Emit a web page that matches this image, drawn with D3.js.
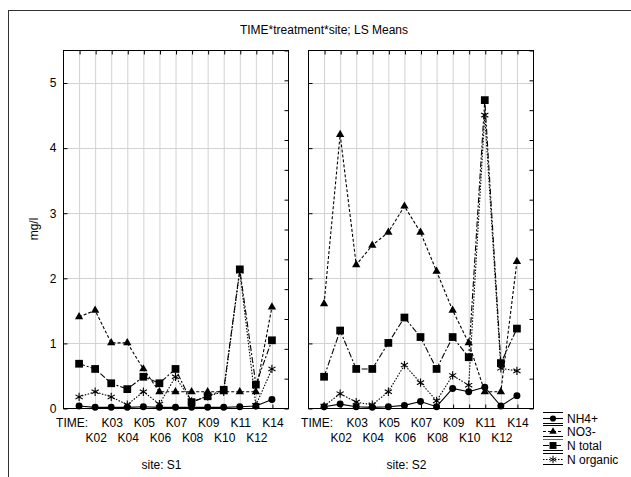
<!DOCTYPE html>
<html>
<head>
<meta charset="utf-8">
<script src="https://cdn.jsdelivr.net/npm/d3@7"></script>
<style>
  body { margin: 0; background: #fff; }
  svg { display: block; }
  text { font-family: "Liberation Sans", Arial, sans-serif; fill: #000; }
</style>
</head>
<body>
<div id="viz-container"></div>
<script>
// categories on the x axis (TIME)
const categories = ["K01", "K02", "K03", "K04", "K05", "K06", "K07", "K08", "K09", "K10", "K11", "K12", "K14"];
const sites = ["S1", "S2"];
const seriesNames = ["NH4+", "NO3-", "N total", "N organic"];
const yTicks = [0, 1, 2, 3, 4, 5];

// site S1
const nh4S1      = [0.03, 0.01, 0.01, 0.01, 0.02, 0.01, 0.01, 0.01, 0.01, 0.01, 0.02, 0.03, 0.13];
const no3S1      = [1.40, 1.50, 1.00, 1.00, 0.60, 0.25, 0.25, 0.25, 0.25, 0.25, 0.25, 0.25, 1.55];
const nTotalS1   = [0.68, 0.60, 0.38, 0.29, 0.48, 0.38, 0.60, 0.09, 0.18, 0.28, 2.13, 0.36, 1.04];
const nOrganicS1 = [0.17, 0.25, 0.17, 0.05, 0.25, 0.06, 0.48, 0.10, 0.18, 0.25, 2.10, 0.04, 0.60];

// site S2
const nh4S2      = [0.02, 0.06, 0.02, 0.01, 0.02, 0.04, 0.10, 0.02, 0.30, 0.25, 0.32, 0.03, 0.19];
const no3S2      = [1.60, 4.20, 2.20, 2.50, 2.70, 3.10, 2.70, 2.10, 1.50, 1.00, 0.25, 0.25, 2.25];
const nTotalS2   = [0.48, 1.19, 0.60, 0.60, 1.00, 1.39, 1.09, 0.60, 1.09, 0.78, 4.73, 0.69, 1.22];
const nOrganicS2 = [0.03, 0.22, 0.09, 0.05, 0.25, 0.66, 0.39, 0.11, 0.50, 0.35, 4.50, 0.61, 0.57];

const siteData = [
  [nh4S1, no3S1, nTotalS1, nOrganicS1],
  [nh4S2, no3S2, nTotalS2, nOrganicS2]
];

const width = 631;
const height = 477;
const panelTop = 50;
const panelBottom = 408;
const panelWidth = 225;
const panelLefts = [63, 308];

const dashes = [null, "3,2", "6,2,2,2", "1.5,1.5"];
const symbols = [d3.symbolCircle, d3.symbolTriangle, d3.symbolSquare, d3.symbolAsterisk];
const symbolSizes = [38, 30, 60, 48];

const svg = d3.select("#viz-container")
  .append("svg")
  .attr("width", width)
  .attr("height", height);

// outer border
svg.append("rect")
  .attr("x", 8.5).attr("y", 10.5)
  .attr("width", 700).attr("height", 600)
  .attr("fill", "none")
  .attr("stroke", "#333");

svg.append("text")
  .attr("x", 324).attr("y", 34)
  .attr("text-anchor", "middle")
  .attr("font-size", 12)
  .text("TIME*treatment*site; LS Means");

const y = d3.scaleLinear().domain([0, 5.5]).range([panelBottom, panelTop]);
const yRight = d3.scaleLinear().domain([0, 6]).range([panelBottom, panelTop]);

svg.append("text")
  .attr("transform", `translate(38,${(panelTop + panelBottom) / 2}) rotate(-90)`)
  .attr("text-anchor", "middle")
  .attr("font-size", 12)
  .text("mg/l");

function drawPanel(p) {
  const left = panelLefts[p];
  const g = svg.append("g");

  const x = d3.scalePoint()
    .domain(categories)
    .range([left, left + panelWidth])
    .padding(1);

  // grid
  g.append("g").selectAll("line")
    .data(categories)
    .join("line")
    .attr("x1", d => x(d) + 0.5).attr("x2", d => x(d) + 0.5)
    .attr("y1", panelTop).attr("y2", panelBottom)
    .attr("stroke", "#d2d2d2");
  g.append("g").selectAll("line")
    .data(yTicks.slice(1))
    .join("line")
    .attr("x1", left).attr("x2", left + panelWidth)
    .attr("y1", d => Math.round(y(d)) + 0.5).attr("y2", d => Math.round(y(d)) + 0.5)
    .attr("stroke", "#d2d2d2");

  // top ticks
  g.append("g")
    .attr("transform", `translate(0.5,${panelTop + 0.5})`)
    .call(d3.axisTop(x).tickSizeInner(-4).tickSizeOuter(0).tickFormat(""))
    .call(a => a.select(".domain").remove());

  // right ticks
  g.append("g")
    .attr("transform", `translate(${left + panelWidth + 0.5},0.5)`)
    .call(d3.axisRight(yRight).ticks(12).tickSizeInner(-4).tickSizeOuter(0).tickFormat(""))
    .call(a => a.select(".domain").remove());

  // left axis
  g.append("g")
    .attr("transform", `translate(${left + 0.5},0.5)`)
    .call(d3.axisLeft(y).tickValues(yTicks).tickSizeInner(-4).tickSizeOuter(0).tickPadding(7)
      .tickFormat(p === 0 ? d3.format("d") : ""))
    .call(a => a.select(".domain").remove())
    .call(a => a.selectAll("text").attr("font-size", 12).attr("font-family", null));

  // bottom axis, two rows of labels
  g.append("g")
    .attr("transform", `translate(0.5,${panelBottom + 0.5})`)
    .call(d3.axisBottom(x).tickSizeInner(-4).tickSizeOuter(0).tickPadding(10)
      .tickFormat((d, i) => i === 0 ? "" : d))
    .call(a => a.select(".domain").remove())
    .call(a => a.selectAll("text")
      .attr("font-size", 12).attr("font-family", null)
      .attr("y", (d, i) => i % 2 ? 25 : 10));

  g.append("text")
    .attr("x", x(categories[0]) + 9).attr("y", 427)
    .attr("text-anchor", "end")
    .attr("font-size", 12)
    .text("TIME:");

  g.append("text")
    .attr("x", left + panelWidth / 2 - 14).attr("y", 469)
    .attr("text-anchor", "middle")
    .attr("font-size", 12)
    .text("site: " + sites[p]);

  // frame
  g.append("rect")
    .attr("x", left + 0.5).attr("y", panelTop + 0.5)
    .attr("width", panelWidth).attr("height", panelBottom - panelTop)
    .attr("fill", "none").attr("stroke", "#000");

  // series
  const line = d3.line()
    .x((d, i) => x(categories[i]))
    .y(d => y(d));

  siteData[p].forEach((values, s) => {
    g.append("path")
      .datum(values)
      .attr("d", line)
      .attr("fill", "none")
      .attr("stroke", "#000")
      .attr("stroke-width", 1.1)
      .attr("stroke-dasharray", dashes[s]);
  });
  siteData[p].forEach((values, s) => {
    g.append("g").selectAll("path")
      .data(values)
      .join("path")
      .attr("transform", (d, i) => `translate(${x(categories[i])},${y(d)})`)
      .attr("d", d3.symbol(symbols[s], symbolSizes[s]))
      .attr("fill", s === 3 ? "none" : "#000")
      .attr("stroke", "#000")
      .attr("stroke-width", s === 3 ? 1.1 : 0);
  });
}

sites.forEach((site, p) => drawPanel(p));

// legend
const legendRows = [418, 431, 445, 459];
const legend = svg.append("g");
seriesNames.forEach((name, s) => {
  const row = legend.append("g").attr("transform", `translate(0,${legendRows[s]})`);
  row.append("line").attr("x1", 543).attr("x2", 563).attr("y1", -5.5).attr("y2", -5.5)
    .attr("stroke", s === 2 ? "#3a8a3a" : "#000");
  row.append("line").attr("x1", 543).attr("x2", 563).attr("y1", 5.5).attr("y2", 5.5)
    .attr("stroke", "#000");
  row.append("line").attr("x1", 543).attr("x2", 563).attr("y1", 0.5).attr("y2", 0.5)
    .attr("stroke", "#000").attr("stroke-width", 1.1)
    .attr("stroke-dasharray", dashes[s]);
  row.append("path")
    .attr("transform", "translate(553,0.5)")
    .attr("d", d3.symbol(symbols[s], symbolSizes[s] * 0.8))
    .attr("fill", s === 3 ? "none" : "#000")
    .attr("stroke", "#000")
    .attr("stroke-width", s === 3 ? 1 : 0);
  row.append("text")
    .attr("x", 567).attr("y", 4.5)
    .attr("font-size", 12)
    .text(name);
});
</script>
</body>
</html>
